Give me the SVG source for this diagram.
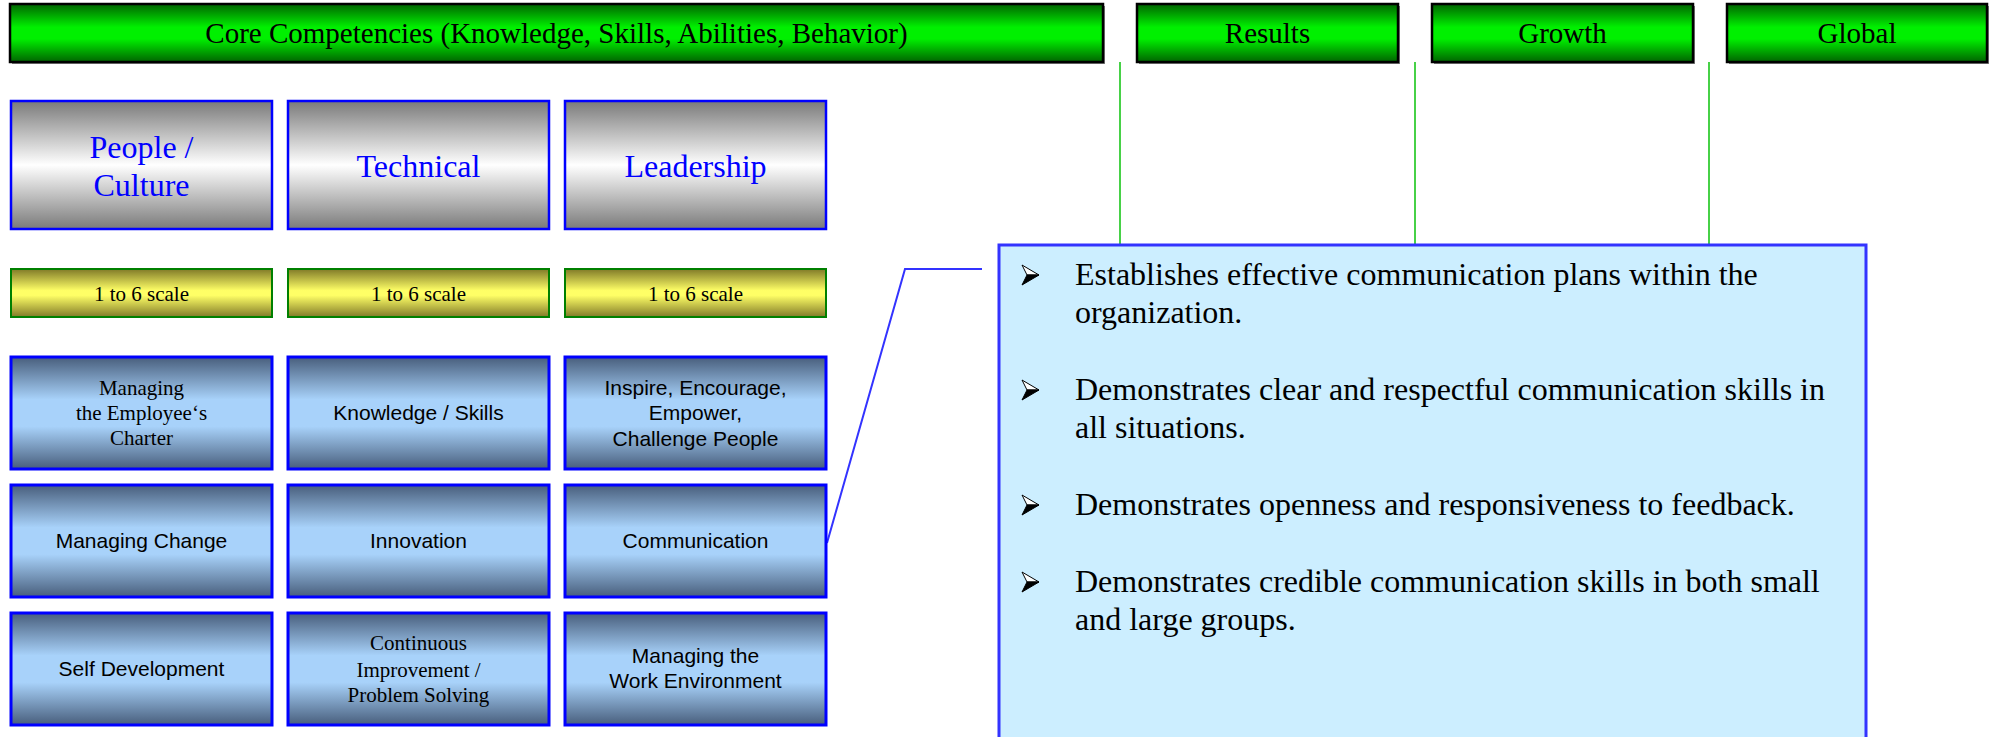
<svg xmlns="http://www.w3.org/2000/svg" width="1993" height="737" viewBox="0 0 1993 737">
  <defs>
    <linearGradient id="gGreen" x1="0" y1="0" x2="0" y2="1">
      <stop offset="0" stop-color="#006400"/>
      <stop offset="0.4" stop-color="#00f000"/>
      <stop offset="0.6" stop-color="#00f000"/>
      <stop offset="1" stop-color="#006400"/>
    </linearGradient>
    <linearGradient id="gGray" x1="0" y1="0" x2="0" y2="1">
      <stop offset="0" stop-color="#7a7a7a"/>
      <stop offset="0.5" stop-color="#ffffff"/>
      <stop offset="1" stop-color="#7a7a7a"/>
    </linearGradient>
    <linearGradient id="gYellow" x1="0" y1="0" x2="0" y2="1">
      <stop offset="0" stop-color="#807a28"/>
      <stop offset="0.45" stop-color="#ffff66"/>
      <stop offset="0.55" stop-color="#ffff66"/>
      <stop offset="1" stop-color="#807a28"/>
    </linearGradient>
    <linearGradient id="gBlue" x1="0" y1="0" x2="0" y2="1">
      <stop offset="0" stop-color="#485e7c"/>
      <stop offset="0.38" stop-color="#a8d2fa"/>
      <stop offset="0.62" stop-color="#a8d2fa"/>
      <stop offset="1" stop-color="#485e7c"/>
    </linearGradient>
  </defs>
  <style>
    .bar { fill: url(#gGreen); stroke: #000; stroke-width: 2.5; }
    .barShadow { fill: #808080; }
    .barText { font-family: "Liberation Serif", "Times New Roman", serif; font-size: 29px; fill: #000; text-anchor: middle; }
    .cat { fill: url(#gGray); stroke: #0000ff; stroke-width: 2.5; }
    .catText { font-family: "Liberation Serif", "Times New Roman", serif; font-size: 32px; fill: #0000ff; text-anchor: middle; }
    .scale { fill: url(#gYellow); stroke: #008000; stroke-width: 2; }
    .scaleText { font-family: "Liberation Serif", "Times New Roman", serif; font-size: 21px; fill: #000; text-anchor: middle; }
    .comp { fill: url(#gBlue); stroke: #0000ff; stroke-width: 3; }
    .sans { font-family: "Liberation Sans", Arial, sans-serif; font-size: 21px; fill: #000; text-anchor: middle; }
    .serif { font-family: "Liberation Serif", "Times New Roman", serif; font-size: 21px; fill: #000; text-anchor: middle; }
    .divider { stroke: #33cc33; stroke-width: 1.8; fill: none; }
    .link { stroke: #3333ff; stroke-width: 2; fill: none; }
    .callout { fill: #cceeff; stroke: #3333ff; stroke-width: 3; }
    .bulletText { font-family: "Liberation Serif", "Times New Roman", serif; font-size: 32px; fill: #000; }
    .arrowTop { fill: #ffffff; stroke: #000; stroke-width: 1; stroke-linejoin: miter; }
    .arrowBottom { fill: #000; stroke: #000; stroke-width: 1; }
  </style>

  <!-- connectors: column dividers and the callout leader -->
  <g id="connectors">
    <line class="divider" x1="1120" y1="62" x2="1120" y2="245"/>
    <line class="divider" x1="1415" y1="62" x2="1415" y2="245"/>
    <line class="divider" x1="1709" y1="62" x2="1709" y2="245"/>
    <polyline class="link" points="827,543 905,269 982,269"/>
  </g>

  <!-- top header bars -->
  <g id="bar-core">
    <rect class="barShadow" x="12" y="6" width="1093" height="58"/>
    <rect class="bar" x="10" y="4" width="1093" height="58"/>
    <text class="barText" x="556.5" y="43">Core Competencies (Knowledge, Skills, Abilities, Behavior)</text>
  </g>
  <g id="bar-results">
    <rect class="barShadow" x="1139" y="6" width="261" height="58"/>
    <rect class="bar" x="1137" y="4" width="261" height="58"/>
    <text class="barText" x="1267.5" y="43">Results</text>
  </g>
  <g id="bar-growth">
    <rect class="barShadow" x="1434" y="6" width="261" height="58"/>
    <rect class="bar" x="1432" y="4" width="261" height="58"/>
    <text class="barText" x="1562.5" y="43">Growth</text>
  </g>
  <g id="bar-global">
    <rect class="barShadow" x="1729" y="6" width="260" height="58"/>
    <rect class="bar" x="1727" y="4" width="260" height="58"/>
    <text class="barText" x="1857" y="43">Global</text>
  </g>

  <!-- category headers -->
  <g id="cat-people">
    <rect class="cat" x="11" y="101" width="261" height="128"/>
    <text class="catText" x="141.5" y="158">People /</text>
    <text class="catText" x="141.5" y="196">Culture</text>
  </g>
  <g id="cat-technical">
    <rect class="cat" x="288" y="101" width="261" height="128"/>
    <text class="catText" x="418.5" y="177">Technical</text>
  </g>
  <g id="cat-leadership">
    <rect class="cat" x="565" y="101" width="261" height="128"/>
    <text class="catText" x="695.5" y="177">Leadership</text>
  </g>

  <!-- rating scales -->
  <g id="scale-people">
    <rect class="scale" x="11" y="269" width="261" height="48"/>
    <text class="scaleText" x="141.5" y="301">1 to 6 scale</text>
  </g>
  <g id="scale-technical">
    <rect class="scale" x="288" y="269" width="261" height="48"/>
    <text class="scaleText" x="418.5" y="301">1 to 6 scale</text>
  </g>
  <g id="scale-leadership">
    <rect class="scale" x="565" y="269" width="261" height="48"/>
    <text class="scaleText" x="695.5" y="301">1 to 6 scale</text>
  </g>

  <!-- competency grid, row 1 -->
  <g id="comp-charter">
    <rect class="comp" x="11" y="357" width="261" height="112"/>
    <text class="serif" x="141.5" y="395">Managing</text>
    <text class="serif" x="141.5" y="420">the Employee‘s</text>
    <text class="serif" x="141.5" y="445">Charter</text>
  </g>
  <g id="comp-knowledge">
    <rect class="comp" x="288" y="357" width="261" height="112"/>
    <text class="sans" x="418.5" y="420">Knowledge / Skills</text>
  </g>
  <g id="comp-inspire">
    <rect class="comp" x="565" y="357" width="261" height="112"/>
    <text class="sans" x="695.5" y="395">Inspire, Encourage,</text>
    <text class="sans" x="695.5" y="420">Empower,</text>
    <text class="sans" x="695.5" y="446">Challenge People</text>
  </g>

  <!-- competency grid, row 2 -->
  <g id="comp-change">
    <rect class="comp" x="11" y="485" width="261" height="112"/>
    <text class="sans" x="141.5" y="548">Managing Change</text>
  </g>
  <g id="comp-innovation">
    <rect class="comp" x="288" y="485" width="261" height="112"/>
    <text class="sans" x="418.5" y="548">Innovation</text>
  </g>
  <g id="comp-communication">
    <rect class="comp" x="565" y="485" width="261" height="112"/>
    <text class="sans" x="695.5" y="548">Communication</text>
  </g>

  <!-- competency grid, row 3 -->
  <g id="comp-selfdev">
    <rect class="comp" x="11" y="613" width="261" height="112"/>
    <text class="sans" x="141.5" y="676">Self Development</text>
  </g>
  <g id="comp-improvement">
    <rect class="comp" x="288" y="613" width="261" height="112"/>
    <text class="serif" x="418.5" y="650">Continuous</text>
    <text class="serif" x="418.5" y="677">Improvement /</text>
    <text class="serif" x="418.5" y="702">Problem Solving</text>
  </g>
  <g id="comp-environment">
    <rect class="comp" x="565" y="613" width="261" height="112"/>
    <text class="sans" x="695.5" y="663">Managing the</text>
    <text class="sans" x="695.5" y="688">Work Environment</text>
  </g>

  <!-- detail callout for Communication -->
  <g id="callout-communication">
    <rect class="callout" x="999" y="245" width="867" height="520"/>
    <g id="bullet-1">
      <path class="arrowTop" d="M1022,265 L1039,275 L1027,275 Z"/>
      <path class="arrowBottom" d="M1027,275 L1039,275 L1022,285 Z"/>
      <text class="bulletText" x="1075" y="285">Establishes effective communication plans within the</text>
      <text class="bulletText" x="1075" y="323">organization.</text>
    </g>
    <g id="bullet-2">
      <path class="arrowTop" d="M1022,380 L1039,390 L1027,390 Z"/>
      <path class="arrowBottom" d="M1027,390 L1039,390 L1022,400 Z"/>
      <text class="bulletText" x="1075" y="400">Demonstrates clear and respectful communication skills in</text>
      <text class="bulletText" x="1075" y="438">all situations.</text>
    </g>
    <g id="bullet-3">
      <path class="arrowTop" d="M1022,495 L1039,505 L1027,505 Z"/>
      <path class="arrowBottom" d="M1027,505 L1039,505 L1022,515 Z"/>
      <text class="bulletText" x="1075" y="515">Demonstrates openness and responsiveness to feedback.</text>
    </g>
    <g id="bullet-4">
      <path class="arrowTop" d="M1022,572 L1039,582 L1027,582 Z"/>
      <path class="arrowBottom" d="M1027,582 L1039,582 L1022,592 Z"/>
      <text class="bulletText" x="1075" y="592">Demonstrates credible communication skills in both small</text>
      <text class="bulletText" x="1075" y="630">and large groups.</text>
    </g>
  </g>
</svg>
